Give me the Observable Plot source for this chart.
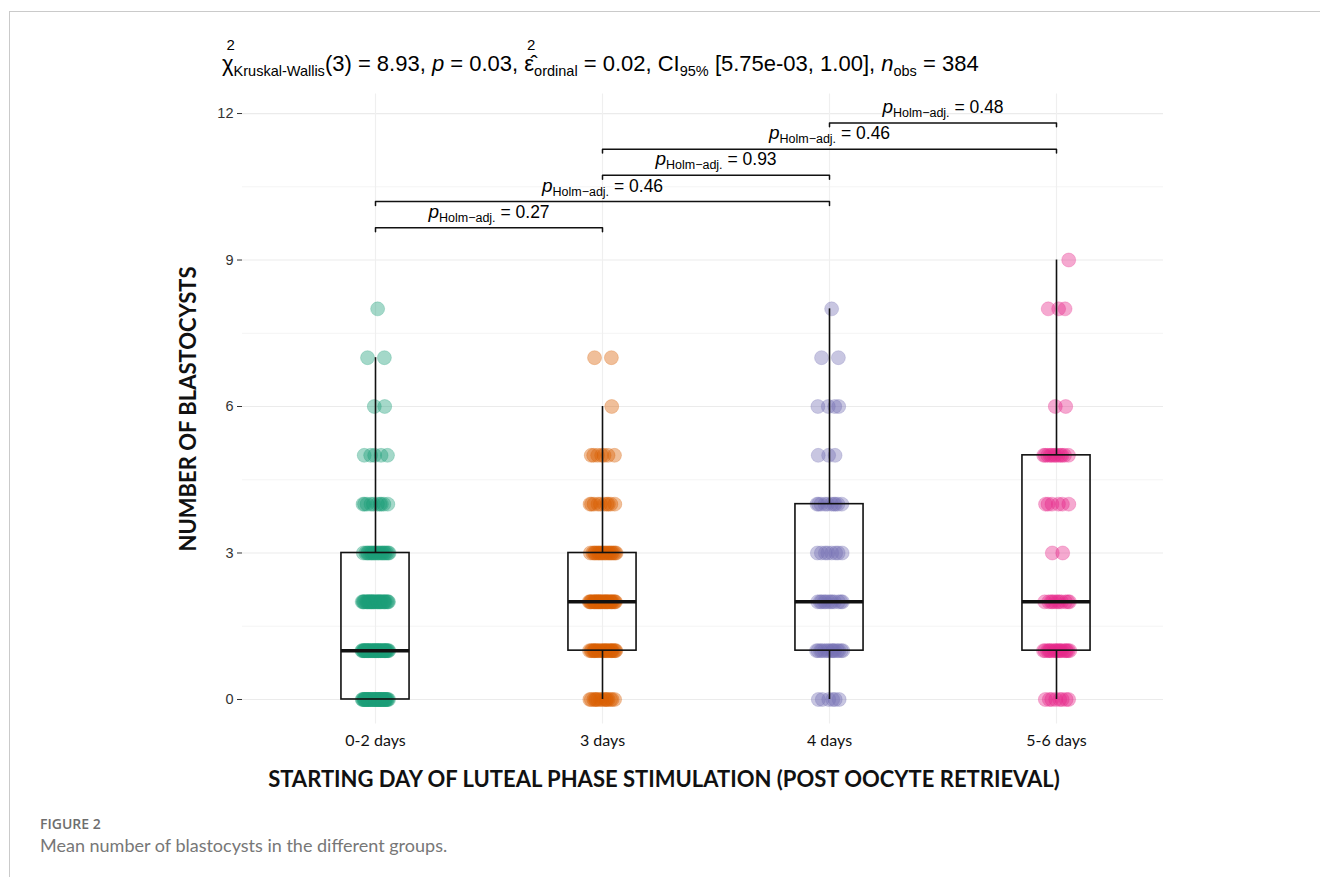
<!DOCTYPE html>
<html>
<head>
<meta charset="utf-8">
<script src="https://cdn.jsdelivr.net/npm/d3@7"></script>
<script src="https://cdn.jsdelivr.net/npm/@observablehq/plot@0.6"></script>
<style>
  body { margin: 0; background: #fff; }
  #page { position: relative; width: 1320px; height: 877px; overflow: hidden; font-family: "Liberation Sans", Arial, sans-serif; }
  #frame { position: absolute; left: 9px; top: 11px; right: -5px; bottom: -5px; border-left: 1.5px solid #cacaca; border-top: 1.5px solid #cacaca; }
  #chart { position: absolute; left: 0; top: 0; }
  #title { position: absolute; left: 222px; top: 53px; font-size: 22px; line-height: 22px; color: #000; white-space: nowrap; }
  .ss { position: relative; display: inline-block; }
  .ss .sb { font-size: 14.5px; position: relative; top: 5px; }
  .ss .sp { position: absolute; left: -7px; top: -19px; font-size: 15px; }
  .sb2 { font-size: 14.5px; position: relative; top: 5px; }
  #ylab { position: absolute; left: 187px; top: 409px; transform: translate(-50%, -50%) rotate(-90deg); font-family: Lato, sans-serif; font-weight: 700; font-size: 22px; color: #111; white-space: nowrap; }
  #xlab { position: absolute; left: 664px; top: 778px; transform: translate(-50%, -50%); font-family: Lato, sans-serif; font-weight: 700; font-size: 22px; color: #111; white-space: nowrap; }
  #fig { position: absolute; left: 40px; top: 814px; font-family: "Open Sans", sans-serif; font-weight: 600; font-size: 14px; color: #6e6e6e; }
  #cap { position: absolute; left: 40px; top: 834px; font-family: Lato, sans-serif; font-size: 18px; color: #777; }
</style>
</head>
<body>
<div id="page">
  <div id="frame"></div>
  <div id="chart"></div>
  <div id="title">χ<span class="ss"><span class="sp">2</span><span class="sb">Kruskal-Wallis</span></span>(3) = 8.93, <i>p</i> = 0.03, ε̂<span class="ss"><span class="sp">2</span><span class="sb">ordinal</span></span> = 0.02, CI<span class="sb2">95%</span> [5.75e-03, 1.00], <i>n</i><span class="sb2">obs</span> = 384</div>
  <div id="ylab">NUMBER OF BLASTOCYSTS</div>
  <div id="xlab">STARTING DAY OF LUTEAL PHASE STIMULATION (POST OOCYTE RETRIEVAL)</div>
  <div id="fig">FIGURE 2</div>
  <div id="cap">Mean number of blastocysts in the different groups.</div>
</div>
<script>
// ---- data ----
const groups = ["0-2 days", "3 days", "4 days", "5-6 days"];
const colors = ["#1B9E77", "#D95F02", "#7570B3", "#E7298A"];
const values = [0, 1, 2, 3, 4, 5, 6, 7, 8, 9];
// number of observations at each value (0..9) for each group
const counts02 = [40, 40, 30, 20, 10, 5, 2, 2, 1, 0];
const counts3  = [15, 25, 30, 20, 10, 7, 1, 2, 0, 0];
const counts4  = [6, 15, 12, 8, 10, 3, 4, 2, 1, 0];
const counts56 = [8, 18, 11, 2, 6, 12, 2, 0, 3, 1];
const yTicks = [0, 3, 6, 9, 12];
const compFrom = ["0-2 days", "0-2 days", "3 days", "3 days", "4 days"];
const compTo   = ["3 days", "4 days", "4 days", "5-6 days", "5-6 days"];
const pHolm    = ["0.27", "0.46", "0.93", "0.46", "0.48"];

// ---- build table ----
const allCounts = [counts02, counts3, counts4, counts56];
const rows = [];
allCounts.forEach((cs, gi) => {
  cs.forEach((c, vi) => {
    for (let j = 0; j < c; j++) {
      const off = (((j + 1) * 0.6180339887 + vi * 0.37) % 1 - 0.5) * 0.12;
      rows.push({group: groups[gi], gi: gi + 1, v: values[vi], off});
    }
  });
});

const stats = groups.map((g, i) => {
  const vs = rows.filter(r => r.group === g).map(r => r.v).sort(d3.ascending);
  const q1 = d3.quantile(vs, 0.25), med = d3.quantile(vs, 0.5), q3 = d3.quantile(vs, 0.75);
  const iqr = q3 - q1;
  const lo = d3.min(vs.filter(v => v >= q1 - 1.5 * iqr));
  const hi = d3.max(vs.filter(v => v <= q3 + 1.5 * iqr));
  return {group: g, i: i + 1, q1, med, q3, lo, hi};
});

const bracketBase = 9.66, bracketStep = 0.537, tick = 0.08;
const brackets = compFrom.map((f, k) => {
  const a = groups.indexOf(f) + 1, b = groups.indexOf(compTo[k]) + 1;
  return {k, a, b, y: bracketBase + k * bracketStep, xm: (a + b) / 2, label: pHolm[k]};
});
const bracketPts = brackets.flatMap(d => [
  {k: d.k, x: d.a, y: d.y - tick},
  {k: d.k, x: d.a, y: d.y},
  {k: d.k, x: d.b, y: d.y},
  {k: d.k, x: d.b, y: d.y - tick}
]);

const bw = 0.15;
const plot = Plot.plot({
  width: 1320,
  height: 770,
  marginLeft: 242,
  marginRight: 157,
  marginTop: 93.5,
  marginBottom: 46.6,
  style: {fontFamily: "'Liberation Sans', Arial, sans-serif", fontSize: "14px", background: "transparent", overflow: "visible"},
  x: {type: "linear", domain: [1 - 133 / 227, 4 + 107 / 227]},
  y: {type: "linear", domain: [-0.5, 12.4]},
  color: {domain: groups, range: colors},
  marks: [
    Plot.gridY({ticks: [1.5, 4.5, 7.5, 10.5], stroke: "#f4f4f4", strokeOpacity: 1, strokeWidth: 1}),
    Plot.gridY({ticks: yTicks, stroke: "#ebebeb", strokeOpacity: 1, strokeWidth: 1.2}),
    Plot.gridX({ticks: [1, 2, 3, 4], stroke: "#efefef", strokeOpacity: 1, strokeWidth: 1.2}),
    Plot.axisY({ticks: yTicks, tickSize: 5, tickPadding: 4, stroke: "#333", fill: "#333", fontSize: 14.5, label: null}),
    Plot.axisX({ticks: [1, 2, 3, 4], tickFormat: d => groups[d - 1], tickSize: 0, tickPadding: 11, fontSize: 16, fontFamily: "Lato, sans-serif", fill: "#111", label: null}),
    Plot.dot(rows, {x: d => d.gi + d.off, y: "v", r: 7, fill: "group", fillOpacity: 0.4, stroke: "group", strokeOpacity: 0.25, strokeWidth: 1}),
    Plot.ruleX(stats, {x: "i", y1: "q3", y2: "hi", stroke: "#111", strokeWidth: 1.6}),
    Plot.ruleX(stats, {x: "i", y1: "lo", y2: "q1", stroke: "#111", strokeWidth: 1.6}),
    Plot.rect(stats, {x1: d => d.i - bw, x2: d => d.i + bw, y1: "q1", y2: "q3", fill: "none", stroke: "#111", strokeWidth: 1.6}),
    Plot.ruleY(stats, {y: "med", x1: d => d.i - bw, x2: d => d.i + bw, stroke: "#111", strokeWidth: 3.5}),
    Plot.line(bracketPts, {x: "x", y: "y", z: "k", stroke: "#111", strokeWidth: 1.5}),
    Plot.text(brackets, {x: "xm", y: "y", text: "label", fill: "#000"})
  ]
});
document.getElementById("chart").appendChild(plot);

// rich text for p-value labels: p (italic) + subscript + value
const NS = "http://www.w3.org/2000/svg";
plot.querySelectorAll('g[aria-label="text"] text').forEach(t => {
  const val = t.textContent;
  t.textContent = "";
  t.setAttribute("y", "-10");
  t.setAttribute("font-family", "'Liberation Sans', Arial, sans-serif");
  const p = document.createElementNS(NS, "tspan");
  p.setAttribute("font-style", "italic"); p.setAttribute("font-size", "19"); p.textContent = "p";
  const s = document.createElementNS(NS, "tspan");
  s.setAttribute("font-size", "12.5"); s.setAttribute("dy", "4"); s.textContent = "Holm\u2212adj.";
  const v = document.createElementNS(NS, "tspan");
  v.setAttribute("font-size", "17.5"); v.setAttribute("dy", "-4"); v.textContent = " = " + val;
  t.appendChild(p); t.appendChild(s); t.appendChild(v);
});
</script>
</body>
</html>
